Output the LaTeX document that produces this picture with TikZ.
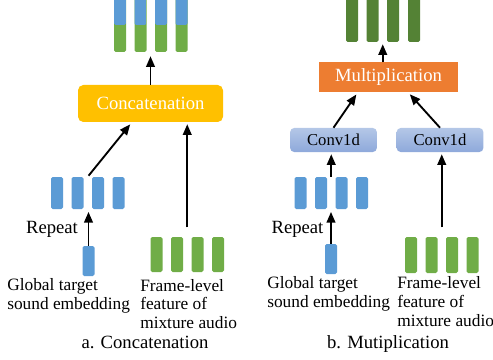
\documentclass[tikz,border=0pt]{standalone}
\usepackage{fontspec}
\setmainfont{Liberation Serif}
\usetikzlibrary{arrows.meta,calc}
\definecolor{barblue}{HTML}{5B9BD5}
\definecolor{bargreen}{HTML}{70AD47}
\definecolor{bardark}{HTML}{548235}
\definecolor{concatyellow}{HTML}{FFC000}
\definecolor{multorange}{HTML}{ED7D31}
\definecolor{convtop}{HTML}{B4C7E7}
\definecolor{convbot}{HTML}{8EA9DB}
\tikzset{
	fbar/.style={rectangle, inner sep=0pt, minimum width=9pt, rounded corners=1.2pt},
	arr/.style={-{Triangle[length=8pt,width=6.5pt]}, line width=1.4pt},
	opbox/.style={rectangle, inner sep=0pt, text=white, font=\fontsize{14}{16}\selectfont},
	convbox/.style={rectangle, inner sep=0pt, rounded corners=3pt, top color=convtop, bottom color=convbot, minimum width=65pt, minimum height=18pt, font=\fontsize{12.5}{14}\selectfont},
	lbl/.style={inner sep=0pt, align=left, anchor=north west, font=\fontsize{13}{14}\selectfont},
	capt/.style={inner sep=0pt, anchor=base, font=\fontsize{14}{16}\selectfont}
}
\begin{document}
\begin{tikzpicture}[x=0.75pt,y=-0.75pt]
	\useasboundingbox (0,0) rectangle (493,360);
	% a. concatenation
	\foreach \i/\x in {1/120,2/140.5,3/161,4/181.5}
		\node[fbar, fill=bargreen, minimum height=43.5pt, path picture={\fill[barblue] (path picture bounding box.north west) rectangle ([yshift=-1.5pt]path picture bounding box.east);}] (oa\i) at (\x,23) {};
	\node[opbox, fill=concatyellow, rounded corners=4pt, minimum width=108.75pt, minimum height=27.75pt] (concat) at (150.5,103.5) {Concatenation};
	\foreach \i/\x in {1/57,2/77.5,3/98,4/118.5}
		\node[fbar, fill=barblue, minimum height=24pt] (ra\i) at (\x,193) {};
	\node[fbar, fill=barblue, minimum height=22.5pt] (ga) at (88.5,261) {};
	\foreach \i/\x in {1/156.5,2/177,3/197.5,4/218}
		\node[fbar, fill=bargreen, minimum height=26.25pt] (fa\i) at (\x,254.5) {};
	\node[capt] (rpa) at (52,233) {Repeat};
	\node[lbl] (txga) at (7,278.2) {Global target\\sound embedding};
	\node[lbl] (txfa) at (140,278.9) {Frame-level\\feature of\\mixture audio};
	\node[capt] (capa) at (145,348) {a. Concatenation};

	\draw[arr, shorten >=3pt] (concat.north) -- (concat.north |- oa2.south);
	\draw[arr, shorten >=2pt] (ga.north) -- (ga.north |- ra2.south);
	\draw[arr, shorten <=1pt, shorten >=2pt] ($(ra2.north)!0.5!(ra3.north)$) -- ($(concat.south west)!0.372!(concat.south east)$);
	\draw[arr, shorten <=7pt, shorten >=1.5pt] ($(fa2.north)!0.5!(fa3.north)$) coordinate (fa) -- (fa |- concat.south);

	% b. multiplication
	\foreach \i/\x in {1/352,2/372.5,3/393,4/414}
		\node[fbar, fill=bardark, minimum height=36pt] (ob\i) at (\x,18) {};
	\node[opbox, fill=multorange, minimum width=104pt, minimum height=22.5pt] (mult) at (388.5,77) {Multiplication};
	\node[convbox] (cva) at (333.5,140) {Conv1d};
	\node[convbox] (cvb) at (440,140) {Conv1d};
	\foreach \i/\x in {1/300.5,2/321,3/341.5,4/362}
		\node[fbar, fill=barblue, minimum height=24pt] (rb\i) at (\x,193) {};
	\node[fbar, fill=barblue, minimum height=22.5pt] (gb) at (331,259) {};
	\foreach \i/\x in {1/411,2/431.5,3/452,4/472.5}
		\node[fbar, fill=bargreen, minimum height=27pt] (fb\i) at (\x,255) {};
	\node[capt] (rpb) at (297.5,233) {Repeat};
	\node[lbl] (txgb) at (267,276.5) {Global target\\sound embedding};
	\node[lbl] (txfb) at (397,276.5) {Frame-level\\feature of\\mixture audio};
	\node[capt] (capb) at (388,348) {b. Mutiplication};

	\draw[arr, shorten >=1.5pt] ($(ob2.south)!0.5!(ob3.south)$) coordinate (ob) ++(0,20) -- (ob);
	\draw[arr, shorten >=2pt] (cva.north) -- ($(mult.south west)!0.28!(mult.south east)$);
	\draw[arr, shorten >=2pt] (cvb.north) -- ($(mult.south west)!0.64!(mult.south east)$);
	\draw[arr, shorten >=2pt] (gb.north) -- (gb.north |- rb2.south);
	\draw[arr, shorten >=1.5pt] ($(rb2.north)!0.5!(rb3.north)$) coordinate (rb) -- (rb |- cva.south);
	\draw[arr, shorten <=7pt, shorten >=1.5pt] ($(fb2.north)!0.5!(fb3.north)$) coordinate (fb) -- (fb |- cvb.south);
\end{tikzpicture}
\end{document}
